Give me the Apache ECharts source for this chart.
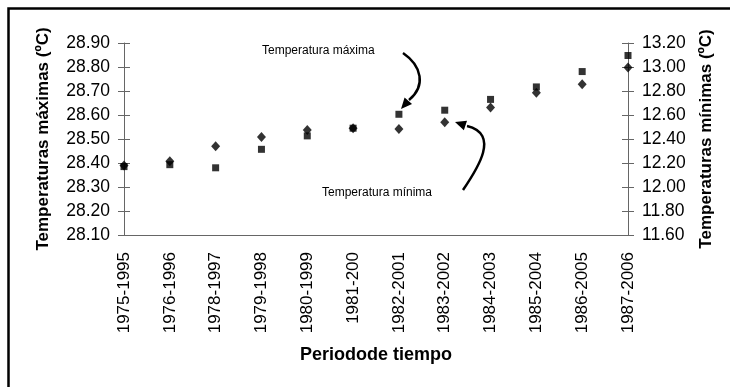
<!DOCTYPE html>
<html>
<head>
<meta charset="utf-8">
<script src="https://cdn.jsdelivr.net/npm/echarts@6/dist/echarts.min.js"></script>
<style>
  html, body { margin: 0; padding: 0; background: #fff; }
  #chart { width: 730px; height: 387px; }
</style>
</head>
<body>
<div id="chart"></div>
<script>
// periods (x categories)
const periods = [
  '1975-1995', '1976-1996', '1978-1997', '1979-1998', '1980-1999', '1981-200',
  '1982-2001', '1983-2002', '1984-2003', '1985-2004', '1986-2005', '1987-2006',
]
// max temperature (left axis, squares)
const tempMax = [28.385, 28.393, 28.38, 28.457, 28.513, 28.545, 28.603, 28.62, 28.665, 28.717, 28.781, 28.848]
// min temperature (right axis, diamonds)
const tempMin = [12.18, 12.215, 12.34, 12.417, 12.475, 12.489, 12.483, 12.539, 12.663, 12.785, 12.857, 12.996]

const maxRange = { min: 28.1, max: 28.9, step: 0.1 }
const minRange = { min: 11.6, max: 13.2, step: 0.2 }

const FONT = 'Liberation Sans, Arial, sans-serif'
const AXIS_COLOR = '#666'

const chart = echarts.init(document.getElementById('chart'), null, { renderer: 'canvas' })

const tickLabel = { fontFamily: FONT, fontSize: 17, color: '#000' }
const axisTitle = { fontFamily: FONT, fontSize: 17, fontWeight: 'bold', color: '#000' }

function yAxisPair(range, position, name, gap) {
  const base = {
    type: 'value',
    position,
    min: range.min,
    max: range.max,
    interval: range.step,
    splitLine: { show: false },
  }
  return [
    {
      ...base,
      name,
      nameLocation: 'middle',
      nameRotate: 90,
      nameGap: gap,
      nameTextStyle: axisTitle,
      axisLine: { show: true, lineStyle: { color: AXIS_COLOR, width: 1 } },
      axisTick: { show: true, length: 6, lineStyle: { color: AXIS_COLOR } },
      axisLabel: { ...tickLabel, fontSize: 17.5, margin: 14, formatter: (v) => v.toFixed(2) },
    },
    // same scale again, only for the ticks that cross into the plot
    {
      ...base,
      axisLine: { show: false },
      axisTick: { show: true, inside: true, length: 6, lineStyle: { color: AXIS_COLOR } },
      axisLabel: { show: false },
    },
  ]
}

function arrowHead(tip, from, len, half) {
  const dx = tip[0] - from[0]
  const dy = tip[1] - from[1]
  const d = Math.hypot(dx, dy)
  const ux = dx / d
  const uy = dy / d
  const bx = tip[0] - ux * len
  const by = tip[1] - uy * len
  return [tip, [bx - uy * half, by + ux * half], [bx + uy * half, by - ux * half]]
}

function arrow(p0, c1, c2, p1, tip) {
  return [
    {
      type: 'bezierCurve',
      shape: { x1: p0[0], y1: p0[1], cpx1: c1[0], cpy1: c1[1], cpx2: c2[0], cpy2: c2[1], x2: p1[0], y2: p1[1] },
      style: { stroke: '#000', lineWidth: 2.5, fill: null },
    },
    {
      type: 'polygon',
      shape: { points: arrowHead(tip, p1, 11, 5) },
      style: { fill: '#000' },
    },
  ]
}

const option = {
  animation: false,
  backgroundColor: '#fff',
  grid: { left: 124, right: 102, top: 43, bottom: 152, outerBoundsMode: 'none' },
  xAxis: {
    type: 'category',
    data: periods,
    boundaryGap: false,
    name: 'Periodode tiempo',
    nameLocation: 'middle',
    nameGap: 111,
    nameTextStyle: { ...axisTitle, fontSize: 18 },
    axisLine: { show: true, lineStyle: { color: AXIS_COLOR, width: 1 } },
    axisTick: { show: false },
    axisLabel: { ...tickLabel, rotate: 90, margin: 17, interval: 0 },
    splitLine: { show: false },
  },
  yAxis: [
    ...yAxisPair(maxRange, 'left', 'Temperaturas máximas (ºC)', 72),
    ...yAxisPair(minRange, 'right', 'Temperaturas mínimas (ºC)', 70),
  ],
  series: [
    {
      name: 'Temperatura mínima',
      type: 'scatter',
      yAxisIndex: 2,
      data: tempMin,
      symbol: 'diamond',
      symbolSize: [9, 10],
      itemStyle: { color: '#000' },
    },
    {
      name: 'Temperatura máxima',
      type: 'scatter',
      yAxisIndex: 0,
      data: tempMax,
      symbol: 'rect',
      symbolSize: 7,
      itemStyle: { color: '#000' },
    },
  ],
  graphic: [
    {
      type: 'rect',
      shape: { x: 8.5, y: 8.5, width: 800, height: 500 },
      style: { stroke: '#000', lineWidth: 2.5, fill: null },
      silent: true,
    },
    {
      type: 'text',
      left: 262,
      top: 45,
      style: { text: 'Temperatura máxima', fontFamily: FONT, fontSize: 12, fill: '#000' },
    },
    {
      type: 'text',
      left: 322,
      top: 187,
      style: { text: 'Temperatura mínima', fontFamily: FONT, fontSize: 12, fill: '#000' },
    },
    ...arrow([403, 53], [422, 66], [426, 86], [409, 100], [401, 109]),
    ...arrow([463, 190], [478, 168], [500, 134], [467, 126], [455, 122]),
  ],
}

chart.setOption(option)
</script>
</body>
</html>
